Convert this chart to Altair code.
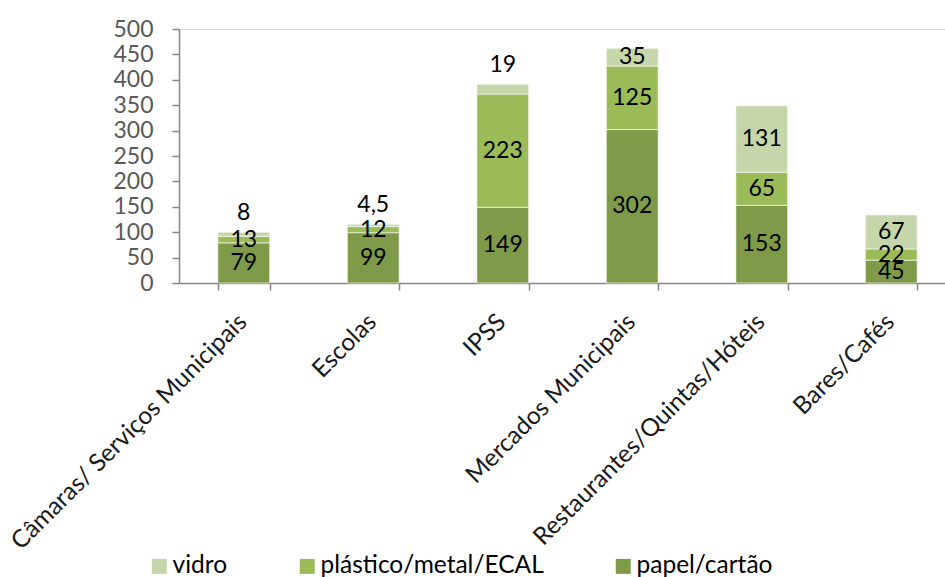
import altair as alt
import pandas as pd

# Categories and tonnage per material
categories = [
    "Câmaras/ Serviços Municipais",
    "Escolas",
    "IPSS",
    "Mercados Municipais",
    "Restaurantes/Quintas/Hóteis",
    "Bares/Cafés",
]
papel = [79, 99, 149, 302, 153, 45]
plastico = [13, 12, 223, 125, 65, 22]
vidro = [8, 4.5, 19, 35, 131, 67]

materials = ["vidro", "plástico/metal/ECAL", "papel/cartão"]
colors = ["#C4D6AA", "#9BBB59", "#7F9B49"]
# stacking order from the baseline upwards
stack_rank = {"papel/cartão": 0, "plástico/metal/ECAL": 1, "vidro": 2}
# vidro labels drawn above the bar for these categories
label_above = ["Câmaras/ Serviços Municipais", "Escolas", "IPSS"]

rows = []
for i, cat in enumerate(categories):
    for mat, vals in (("papel/cartão", papel), ("plástico/metal/ECAL", plastico), ("vidro", vidro)):
        v = vals[i]
        rows.append({
            "cat": cat,
            "mat": mat,
            "value": v,
            "rank": stack_rank[mat],
            "label": f"{v:g}".replace(".", ","),
            "above": (mat == "vidro") and (cat in label_above),
        })
df = pd.DataFrame(rows)

FONT = "Lato"

x_scale = alt.Scale(domain=categories, paddingInner=0.6, paddingOuter=0.3, range=[0, 777])
y_scale = alt.Scale(domain=[0, 500])

x_axis = alt.Axis(
    title=None,
    labelAngle=-45,
    labelAlign="right",
    labelBaseline="alphabetic",
    labelPadding=33,
    labelOffset=4,
    labelFontSize=24.5,
    labelFont=FONT,
    labelColor="#1a1a1a",
    labelLimit=500,
    labelOverlap=False,
    tickBand="extent",
    tickSize=7,
    tickColor="#868686",
    tickWidth=1.5,
    domainColor="#868686",
    domainWidth=1.5,
    grid=False,
)

y_axis = alt.Axis(
    title=None,
    values=list(range(0, 501, 50)),
    labelFontSize=23,
    labelFont=FONT,
    labelColor="#595959",
    labelPadding=19,
    labelOverlap=False,
    tickSize=7,
    tickColor="#868686",
    tickWidth=1.5,
    domainColor="#868686",
    domainWidth=1.5,
    grid=False,
)

x_enc = alt.X("cat:N", sort=categories, scale=x_scale, axis=x_axis)

base = alt.Chart(df).transform_stack(
    stack="value",
    groupby=["cat"],
    sort=[alt.SortField("rank", order="ascending")],
    as_=["v0", "v1"],
).transform_calculate(mid="(datum.v0 + datum.v1) / 2")

bars = base.mark_bar(stroke="white", strokeWidth=0.6).encode(
    x=x_enc,
    y=alt.Y("v0:Q", scale=y_scale, axis=y_axis),
    y2="v1:Q",
    color=alt.Color(
        "mat:N",
        scale=alt.Scale(domain=materials, range=colors),
        legend=alt.Legend(
            title=None,
            orient="none",
            direction="horizontal",
            legendX=-32,
            legendY=525,
            symbolType="square",
            symbolSize=225,
            symbolStrokeWidth=0,
            labelFont=FONT,
            labelFontSize=24.5,
            labelColor="#000000",
            labelOffset=1,
            labelLimit=400,
            columnPadding=67,
        ),
    ),
)

inside = base.transform_filter("!datum.above").mark_text(
    font=FONT, fontSize=23, color="#000000", baseline="middle"
).encode(x=x_enc, y=alt.Y("mid:Q", scale=y_scale, axis=y_axis), text="label:N")

outside = base.transform_filter("datum.above").mark_text(
    font=FONT, fontSize=23, color="#000000", baseline="middle", dy=-19
).encode(x=x_enc, y=alt.Y("v1:Q", scale=y_scale, axis=y_axis), text="label:N")

chart = (
    alt.layer(bars, inside, outside)
    .properties(
        width=766,
        height=254,
        autosize=alt.AutoSizeParams(type="none"),
        padding={"left": 179, "top": 29, "right": 0, "bottom": 294},
    )
    .configure_view(strokeWidth=0, stroke="transparent")
    .configure(background="white")
)

chart.save("out.html", embed_options={"renderer": "svg", "actions": False})
